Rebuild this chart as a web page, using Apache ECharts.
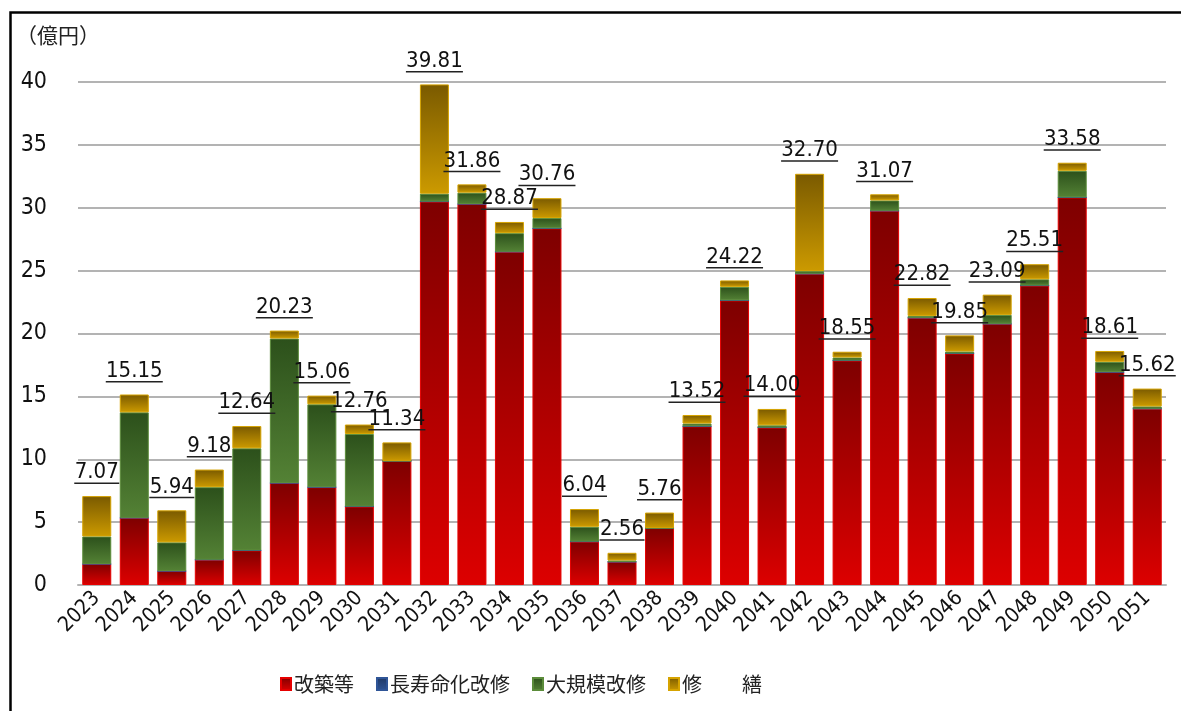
<!DOCTYPE html>
<html lang="ja">
<head>
<meta charset="utf-8">
<title>改築・改修等の費用見込み</title>
<script src="https://cdn.jsdelivr.net/npm/echarts@6/dist/echarts.min.js"></script>
<style>
  html, body { margin: 0; padding: 0; background: #fff; }
  #chart { width: 1181px; height: 711px; }
</style>
</head>
<body>
<div id="chart"></div>
<script>
// 年度
const years = [
  '2023','2024','2025','2026','2027','2028','2029','2030','2031','2032',
  '2033','2034','2035','2036','2037','2038','2039','2040','2041','2042',
  '2043','2044','2045','2046','2047','2048','2049','2050','2051'
];

// 改築等（億円）
const kaichiku = [
  1.67, 5.34, 1.11, 2.01, 2.75, 8.11, 7.78, 6.24, 9.87, 30.49,
  30.30, 26.50, 28.36, 3.45, 1.84, 4.53, 12.62, 22.63, 12.52, 24.75,
  17.85, 29.76, 21.25, 18.41, 20.77, 23.81, 30.82, 16.93, 14.02
];

// 長寿命化改修（億円）
const chojumyo = [
  0, 0, 0, 0, 0, 0, 0, 0, 0, 0,
  0, 0, 0, 0, 0, 0, 0, 0, 0, 0,
  0, 0, 0, 0, 0, 0, 0, 0, 0
];

// 大規模改修（億円）
const daikibo = [
  2.19, 8.39, 2.28, 5.77, 8.12, 11.49, 6.59, 5.77, 0, 0.63,
  0.90, 1.48, 0.82, 1.18, 0.11, 0, 0.22, 1.08, 0.18, 0.21,
  0.24, 0.82, 0.15, 0.16, 0.71, 0.50, 2.12, 0.82, 0.18
];

// 修繕（億円）
const shuzen = [
  3.21, 1.42, 2.55, 1.40, 1.77, 0.63, 0.69, 0.75, 1.47, 8.69,
  0.66, 0.89, 1.58, 1.41, 0.61, 1.23, 0.68, 0.51, 1.30, 7.74,
  0.46, 0.49, 1.42, 1.28, 1.61, 1.20, 0.64, 0.86, 1.42
];

const seriesNames = ['改築等', '長寿命化改修', '大規模改修', '修\u3000\u3000繕'];

const NUM_FONT = "'DejaVu Sans Condensed', 'DejaVu Sans', sans-serif";
const JP_FONT = "'Noto Sans CJK JP', 'Noto Sans', sans-serif";

// 上が濃く下が明るい縦グラデーション
function vGrad(top, bottom) {
  return new echarts.graphic.LinearGradient(0, 0, 0, 1, [
    { offset: 0, color: top },
    { offset: 1, color: bottom }
  ]);
}

// 年度ごとの合計
function total(i) {
  return kaichiku[i] + chojumyo[i] + daikibo[i] + shuzen[i];
}

const chart = echarts.init(document.getElementById('chart'), null, { renderer: 'canvas' });

const barBase = {
  type: 'bar',
  stack: 'cost',
  barWidth: 29,
  emphasis: { disabled: true }
};

chart.setOption({
  animation: false,
  backgroundColor: '#ffffff',
  title: {
    text: '（億円）',
    left: 11,
    top: 20,
    textStyle: { fontFamily: JP_FONT, fontSize: 21, fontWeight: 'normal', color: '#222' }
  },
  graphic: [{
    type: 'rect',
    left: 8, top: 10,
    shape: { width: 1200, height: 720 },
    style: { fill: 'none', stroke: '#000', lineWidth: 2.5 },
    silent: true
  }],
  legend: {
    left: 275,
    top: 669,
    itemWidth: 10,
    itemHeight: 12,
    itemGap: 22,
    icon: 'rect',
    textStyle: { fontFamily: JP_FONT, fontSize: 20, color: '#222', padding: [0, 0, 0, -2] },
    data: seriesNames
  },
  grid: { left: 78, right: 15, top: 82, bottom: 126, containLabel: false },
  xAxis: {
    type: 'category',
    data: years,
    axisLine: { lineStyle: { color: '#b3b3b3', width: 2 } },
    axisTick: { show: false },
    axisLabel: {
      rotate: 45,
      margin: 10,
      interval: 0,
      fontFamily: NUM_FONT,
      fontSize: 21,
      color: '#111'
    }
  },
  yAxis: {
    type: 'value',
    min: 0,
    max: 40,
    interval: 5,
    axisLine: { show: false },
    axisTick: { show: false },
    splitLine: { lineStyle: { color: '#b3b3b3', width: 2 } },
    axisLabel: {
      margin: 31,
      fontFamily: NUM_FONT,
      fontSize: 23,
      color: '#111'
    }
  },
  series: [
    Object.assign({}, barBase, {
      name: seriesNames[0],
      data: kaichiku,
      itemStyle: { color: vGrad('#7e0000', '#dd0000'), borderColor: '#e60000', borderWidth: 1 }
    }),
    Object.assign({}, barBase, {
      name: seriesNames[1],
      data: chojumyo,
      itemStyle: { color: vGrad('#1f3864', '#2f5597'), borderColor: '#2f5597', borderWidth: 1 }
    }),
    Object.assign({}, barBase, {
      name: seriesNames[2],
      data: daikibo,
      itemStyle: { color: vGrad('#2c501b', '#548235'), borderColor: '#5b8c3a', borderWidth: 1 }
    }),
    Object.assign({}, barBase, {
      name: seriesNames[3],
      data: shuzen,
      itemStyle: { color: vGrad('#7a5a00', '#cc9a00'), borderColor: '#d6a300', borderWidth: 1 },
      label: {
        show: true,
        position: 'top',
        distance: 12,
        formatter: function (p) {
          const s = total(p.dataIndex).toFixed(2);
          return '{v|' + s + '}\n{' + (s.length > 4 ? 'u5' : 'u4') + '|}';
        },
        rich: {
          v: { fontFamily: NUM_FONT, fontSize: 22, lineHeight: 20, color: '#111', align: 'center' },
          u4: { width: 45, height: 1.5, backgroundColor: '#222', align: 'center' },
          u5: { width: 57, height: 1.5, backgroundColor: '#222', align: 'center' }
        }
      }
    })
  ]
});
</script>
</body>
</html>
